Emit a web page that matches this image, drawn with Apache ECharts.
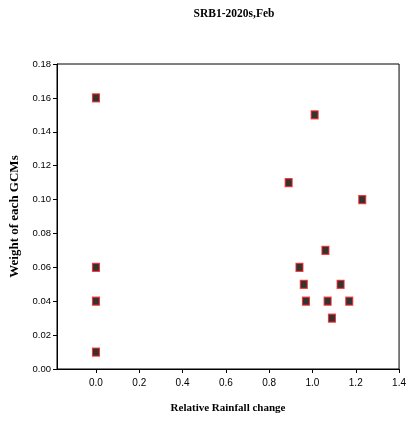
<!DOCTYPE html>
<html><head><meta charset="utf-8">
<script src="https://cdn.jsdelivr.net/npm/echarts@6/dist/echarts.min.js"></script>
<style>html,body{margin:0;padding:0;background:#fff}#c{width:409px;height:433px}</style>
</head><body><div id="c"></div>
<script>
const xValues = [0.0, 0.0, 0.0, 0.0, 1.01, 0.89, 1.23, 1.06, 0.94, 0.96, 1.13, 0.97, 1.07, 1.17, 1.09];
const yValues = [0.16, 0.06, 0.04, 0.01, 0.15, 0.11, 0.10, 0.07, 0.06, 0.05, 0.05, 0.04, 0.04, 0.04, 0.03];
const xTicks = [0.0, 0.2, 0.4, 0.6, 0.8, 1.0, 1.2, 1.4];
const yTicks = [0.00, 0.02, 0.04, 0.06, 0.08, 0.10, 0.12, 0.14, 0.16, 0.18];

const chart = echarts.init(document.getElementById('c'));
chart.setOption({
  animation: false,
  title: {text: 'SRB1-2020s,Feb', left: 229, top: 3, textAlign: 'center',
    textStyle: {fontFamily: 'Liberation Serif', fontWeight: 'bold', fontSize: 11.5, color: '#000'}},
  grid: {left: 57, right: 8, top: 64, bottom: 64, show: true, borderColor: '#000', borderWidth: 1},
  xAxis: {
    type: 'value', min: -0.18, max: 1.4,
    name: 'Relative Rainfall change', nameLocation: 'middle', nameGap: 34,
    nameTextStyle: {fontFamily: 'Liberation Serif', fontWeight: 'bold', fontSize: 11, color: '#000'},
    axisLine: {show: true, onZero: false, lineStyle: {color: '#000', width: 1}},
    axisTick: {show: true, length: 4, customValues: xTicks, lineStyle: {color: '#000'}},
    axisLabel: {customValues: xTicks, formatter: v => v.toFixed(1), fontFamily: 'Liberation Sans', fontSize: 10, color: '#000', margin: 9},
    splitLine: {show: false}
  },
  yAxis: {
    type: 'value', min: 0, max: 0.18, interval: 0.02,
    name: 'Weight of each GCMs', nameLocation: 'middle', nameGap: 32, nameRotate: 90,
    nameTextStyle: {fontFamily: 'Liberation Serif', fontWeight: 'bold', fontSize: 13, color: '#000'},
    axisLine: {show: true, onZero: false, lineStyle: {color: '#000', width: 1}},
    axisTick: {show: true, length: 4, lineStyle: {color: '#000'}},
    axisLabel: {formatter: v => v.toFixed(2), fontFamily: 'Liberation Sans', fontSize: 9.5, color: '#000', margin: 6},
    splitLine: {show: false}
  },
  series: [{
    type: 'scatter', symbol: 'rect', symbolSize: [7, 8],
    itemStyle: {color: '#000', borderColor: '#ff2020', borderWidth: 1.2},
    data: xValues.map((x, i) => [x, yValues[i]])
  }]
});
</script></body></html>
